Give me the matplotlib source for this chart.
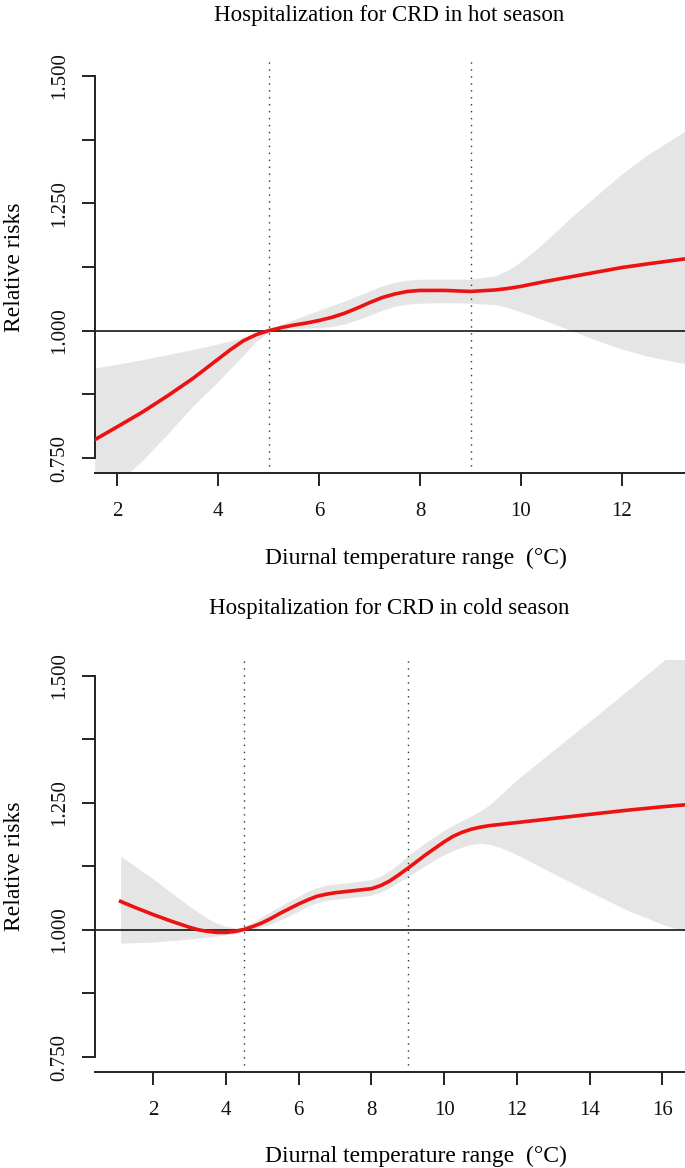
import matplotlib
matplotlib.use("Agg")
import matplotlib.pyplot as plt

plt.rcParams['font.family'] = ['Liberation Serif', 'DejaVu Serif']

# ---------------- data ----------------
hot_title = "Hospitalization for CRD in hot season"
cold_title = "Hospitalization for CRD in cold season"
x_label = "Diurnal temperature range  (\u00b0C)"
y_label = "Relative risks"

hot_x = [1.56, 2.0, 2.5, 3.0, 3.5, 4.0, 4.25, 4.5, 4.75, 5.0, 5.25, 5.5, 5.75,
         6.0, 6.25, 6.5, 6.75, 7.0, 7.25, 7.5, 7.75, 8.0, 8.5, 9.0, 9.5, 9.75,
         10.0, 10.25, 10.5, 11.0, 11.5, 12.0, 12.5, 13.25]
hot_rr = [0.786, 0.811, 0.840, 0.872, 0.906, 0.944, 0.963, 0.980, 0.992, 1.000,
          1.006, 1.011, 1.015, 1.020, 1.026, 1.034, 1.044, 1.055, 1.065, 1.072,
          1.077, 1.079, 1.079, 1.077, 1.080, 1.083, 1.087, 1.092, 1.097, 1.106,
          1.115, 1.124, 1.131, 1.141]
hot_hi = [0.927, 0.934, 0.943, 0.953, 0.963, 0.974, 0.980, 0.987, 0.994, 1.003,
          1.012, 1.022, 1.031, 1.040, 1.049, 1.058, 1.068, 1.078, 1.088, 1.095,
          1.099, 1.101, 1.101, 1.101, 1.108, 1.119, 1.136, 1.155, 1.177, 1.223,
          1.266, 1.308, 1.345, 1.392]
hot_lo = [0.660, 0.700, 0.745, 0.797, 0.852, 0.900, 0.926, 0.952, 0.978, 0.997,
          1.002, 1.004, 1.005, 1.006, 1.008, 1.013, 1.021, 1.030, 1.040, 1.048,
          1.052, 1.054, 1.055, 1.054, 1.051, 1.045, 1.037, 1.028, 1.019, 1.000,
          0.981, 0.964, 0.950, 0.935]
hot_cuts = [5.0, 9.0]
hot_xticks = [2, 4, 6, 8, 10, 12]

cold_x = [1.1, 1.5, 2.0, 2.5, 3.0, 3.25, 3.5, 3.75, 4.0, 4.25, 4.5, 4.75, 5.0,
          5.25, 5.5, 5.75, 6.0, 6.25, 6.5, 6.75, 7.0, 7.5, 8.0, 8.25, 8.5, 8.75,
          9.0, 9.5, 10.0, 10.25, 10.5, 10.75, 11.0, 11.25, 11.5, 12.0, 13.0,
          14.0, 15.0, 16.0, 16.65]
cold_rr = [1.056, 1.044, 1.030, 1.017, 1.005, 1.000, 0.997, 0.995, 0.995, 0.997,
           1.001, 1.007, 1.014, 1.023, 1.033, 1.042, 1.051, 1.059, 1.066, 1.070,
           1.073, 1.077, 1.081, 1.087, 1.096, 1.108, 1.121, 1.148, 1.173, 1.184,
           1.192, 1.198, 1.202, 1.205, 1.207, 1.211, 1.219, 1.227, 1.235, 1.242,
           1.246]
cold_hi = [1.145, 1.125, 1.100, 1.073, 1.046, 1.034, 1.022, 1.013, 1.007, 1.004,
           1.006, 1.015, 1.026, 1.037, 1.047, 1.057, 1.066, 1.076, 1.083, 1.088,
           1.090, 1.094, 1.099, 1.106, 1.116, 1.130, 1.145, 1.172, 1.196, 1.206,
           1.215, 1.224, 1.234, 1.246, 1.262, 1.295, 1.353, 1.410, 1.468, 1.527,
           1.565]
cold_lo = [0.974, 0.975, 0.976, 0.979, 0.982, 0.984, 0.986, 0.988, 0.990, 0.993,
           0.997, 1.001, 1.006, 1.012, 1.020, 1.028, 1.037, 1.046, 1.053, 1.058,
           1.060, 1.064, 1.068, 1.074, 1.083, 1.094, 1.105, 1.127, 1.148, 1.156,
           1.163, 1.168, 1.170, 1.168, 1.163, 1.148, 1.111, 1.075, 1.040, 1.011,
           0.996]
cold_cuts = [4.5, 9.0]
cold_xticks = [2, 4, 6, 8, 10, 12, 14, 16]

y_ticks = [0.750, 0.875, 1.000, 1.125, 1.250, 1.375, 1.500]
y_ticklabels = ["0.750", "", "1.000", "", "1.250", "", "1.500"]

# ---------------- layout ----------------
W, H = 685, 1168
fig = plt.figure(figsize=(W / 100, H / 100), dpi=100)


def fx(px):
    return px / W


def fy(py):
    return 1 - py / H


def panel(top_px, bot_px, xlim, x, rr, lo, hi, cuts, xticks):
    ax = fig.add_axes([fx(95), fy(bot_px), fx(590), (bot_px - top_px) / H])
    ax.fill_between(x, lo, hi, color="#e5e5e5", lw=0, zorder=1)
    ax.axhline(1.0, color="black", lw=1.1, zorder=2)
    for c in cuts:
        ax.axvline(c, color="#333333", lw=1.0, ls=(0, (1, 4)), zorder=2)
    ax.plot(x, rr, color="#ee1111", lw=2.6, zorder=3, solid_joinstyle="round")
    ax.set_xlim(*xlim)
    ax.set_ylim(0.72, 1.53)
    ax.set_xticks(xticks)
    ax.set_xticklabels([str(t) for t in xticks])
    ax.set_yticks(y_ticks)
    ax.set_yticklabels(y_ticklabels, rotation=90, va="center")
    for s in ["top", "right"]:
        ax.spines[s].set_visible(False)
    ax.spines["left"].set_bounds(0.75, 1.5)
    for s in ["left", "bottom"]:
        ax.spines[s].set_linewidth(1.4)
        ax.spines[s].set_color("#222222")
    ax.tick_params(axis="both", direction="out", length=9.4, width=1.4,
                   color="#222222", labelsize=15, labelcolor="#111111")
    ax.tick_params(axis="x", pad=11)
    ax.tick_params(axis="y", pad=9)
    return ax


ax1 = panel(60.7, 473.3, (1.564, 1.564 + 590 / 50.5), hot_x, hot_rr, hot_lo,
            hot_hi, hot_cuts, hot_xticks)
ax2 = panel(660.3, 1072.3, (0.396, 0.396 + 590 / 36.35), cold_x, cold_rr,
            cold_lo, cold_hi, cold_cuts, cold_xticks)

# titles & labels
fig.text(fx(389.5), fy(15), hot_title, ha="center", va="center", fontsize=16.5)
fig.text(fx(389.5), fy(609), cold_title, ha="center", va="center", fontsize=16.5)
fig.text(fx(416), fy(558), x_label, ha="center", va="center", fontsize=17)
fig.text(fx(416), fy(1156), x_label, ha="center", va="center", fontsize=17)
fig.text(fx(15), fy(267), y_label, ha="center", va="center", rotation=90, fontsize=17)
fig.text(fx(15), fy(866), y_label, ha="center", va="center", rotation=90, fontsize=17)

fig.savefig("out.png", dpi=100)
